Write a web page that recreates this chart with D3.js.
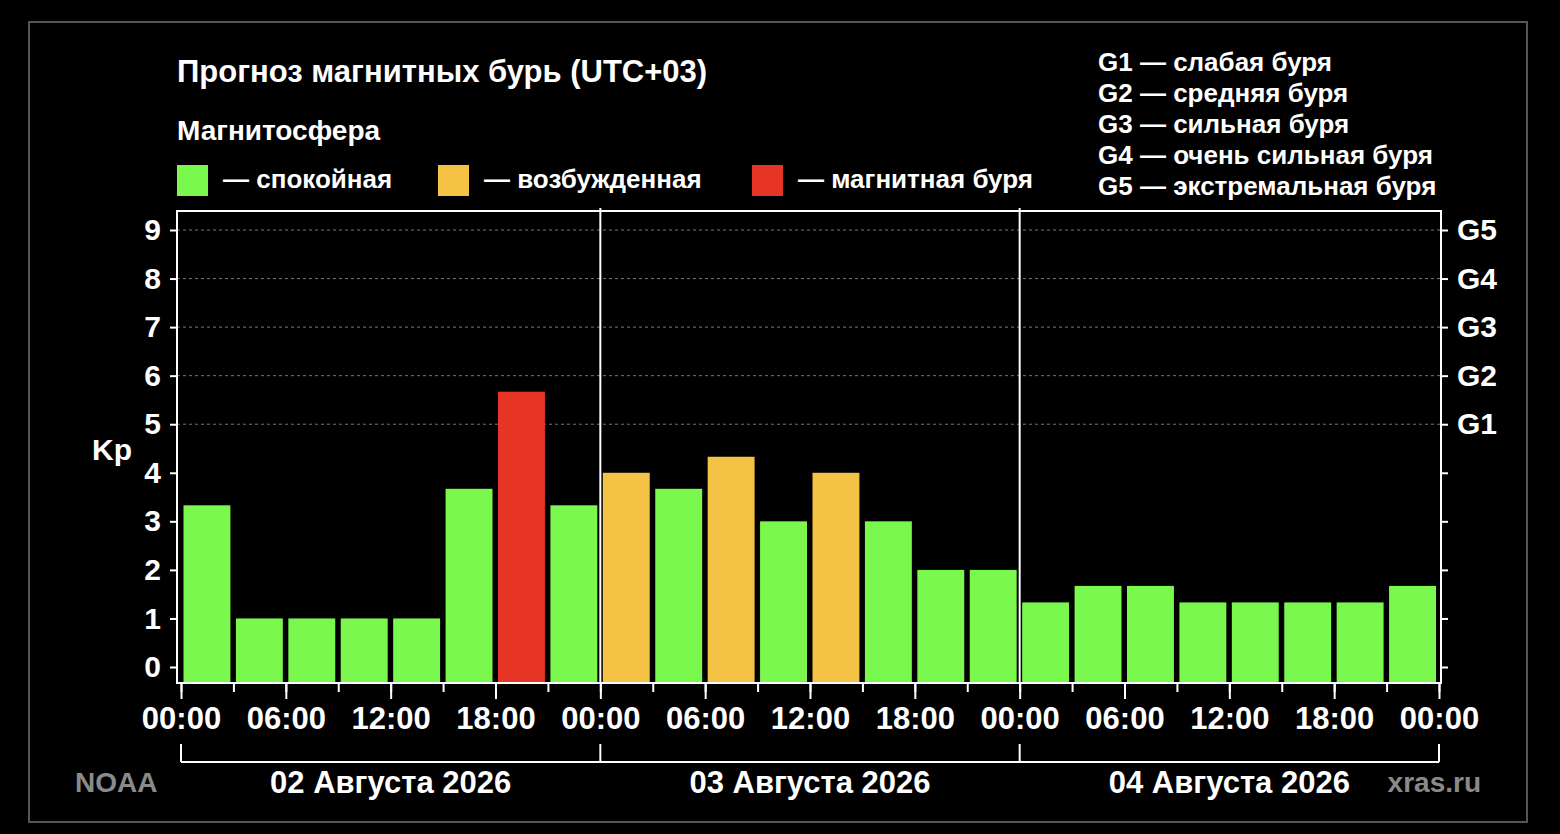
<!DOCTYPE html>
<html>
<head>
<meta charset="utf-8">
<script src="https://cdn.jsdelivr.net/npm/d3@7"></script>
<style>
  body { margin: 0; background: #000; }
  svg text { font-family: "Liberation Sans", Arial, sans-serif; font-weight: bold; }
</style>
</head>
<body>
<div id="chart"></div>
<script>
// Kp forecast, one value per 3 hours
var days = ["02 Августа 2026", "03 Августа 2026", "04 Августа 2026"];
var kpValues = [3.33, 1, 1, 1, 1, 3.67, 5.67, 3.33,
                4, 3.67, 4.33, 3, 4, 3, 2, 2,
                1.33, 1.67, 1.67, 1.33, 1.33, 1.33, 1.33, 1.67];
var kpTicks = [0, 1, 2, 3, 4, 5, 6, 7, 8, 9];
var stormLevels = [5, 6, 7, 8, 9];
var stormLabels = ["G1", "G2", "G3", "G4", "G5"];
var stormNames = ["слабая буря", "средняя буря", "сильная буря", "очень сильная буря", "экстремальная буря"];
var stateNames = ["спокойная", "возбужденная", "магнитная буря"];
var stateColors = ["#7bf84e", "#f4c244", "#e63425"];

function makeChart() {
var svgWidth = 1560;
var svgHeight = 834;

var plot = { left: 177, right: 1441, top: 211, bottom: 683 };

var svg = d3.select("#chart")
            .append("svg")
            .attr("width", svgWidth)
            .attr("height", svgHeight);

svg.append("rect")
   .attr("x", 29).attr("y", 22)
   .attr("width", 1498).attr("height", 800)
   .attr("fill", "none")
   .attr("stroke", "#555")
   .attr("stroke-width", 2);

var start = new Date(Date.UTC(2026, 7, 2));
var end = d3.utcDay.offset(start, days.length);
var bars = kpValues.map(function(v, i) {
    return { t: d3.utcHour.offset(start, i * 3), kp: v };
});

var xScale = d3.scaleUtc()
               .domain([start, end])
               .range([181, 1439]);
var yScale = d3.scaleLinear()
               .domain([0, 9])
               .range([667, 230]);

function kpColor(v) {
    if (v >= 5) return stateColors[2];
    if (v >= 4) return stateColors[1];
    return stateColors[0];
}

// grid for storm levels
svg.append("g")
   .selectAll("line")
   .data(stormLevels)
   .enter()
   .append("line")
   .attr("x1", plot.left).attr("x2", plot.right)
   .attr("y1", d => yScale(d)).attr("y2", d => yScale(d))
   .attr("stroke", "#777")
   .attr("stroke-width", 1)
   .attr("stroke-dasharray", "3,3");

svg.append("g")
   .selectAll("rect")
   .data(bars)
   .enter()
   .append("rect")
   .attr("x", d => xScale(d.t) + 2.5)
   .attr("width", d => xScale(d3.utcHour.offset(d.t, 3)) - xScale(d.t) - 5.5)
   .attr("y", d => yScale(d.kp))
   .attr("height", d => plot.bottom - yScale(d.kp))
   .attr("fill", d => kpColor(d.kp));

// day separators
svg.append("g")
   .selectAll("line")
   .data(d3.utcDay.range(d3.utcDay.offset(start, 1), end))
   .enter()
   .append("line")
   .attr("x1", d => xScale(d)).attr("x2", d => xScale(d))
   .attr("y1", plot.top - 3).attr("y2", plot.bottom)
   .attr("stroke", "#fff")
   .attr("stroke-width", 2);

svg.append("rect")
   .attr("x", plot.left).attr("y", plot.top)
   .attr("width", plot.right - plot.left)
   .attr("height", plot.bottom - plot.top)
   .attr("fill", "none")
   .attr("stroke", "#fff")
   .attr("stroke-width", 2);

// x axes: minor 3h ticks, major 6h ticks with labels
var xMinor = d3.axisBottom(xScale)
               .ticks(d3.utcHour.every(3))
               .tickSize(9)
               .tickFormat("");
var xMajor = d3.axisBottom(xScale)
               .ticks(d3.utcHour.every(6))
               .tickSize(16)
               .tickPadding(8)
               .tickFormat(d3.utcFormat("%H:%M"));

svg.append("g").attr("class", "axis")
   .attr("transform", `translate(0, ${plot.bottom})`)
   .call(xMinor);
svg.append("g").attr("class", "axis")
   .attr("transform", `translate(0, ${plot.bottom})`)
   .call(xMajor)
   .selectAll("text")
   .style("font-size", "31px");

var yLeft = d3.axisLeft(yScale)
              .tickValues(kpTicks)
              .tickSize(7)
              .tickPadding(9)
              .tickFormat(d3.format("d"));
svg.append("g").attr("class", "axis")
   .attr("transform", `translate(${plot.left}, 0)`)
   .call(yLeft)
   .selectAll("text")
   .style("font-size", "30px");

var yRight = d3.axisRight(yScale)
               .tickValues(kpTicks)
               .tickSize(7)
               .tickPadding(9)
               .tickFormat(d => stormLabels[stormLevels.indexOf(d)] || "");
svg.append("g").attr("class", "axis")
   .attr("transform", `translate(${plot.right}, 0)`)
   .call(yRight)
   .selectAll("text")
   .style("font-size", "30px");

svg.selectAll(".axis .domain").remove();
svg.selectAll(".axis line").attr("stroke", "#fff").attr("stroke-width", 2);
svg.selectAll(".axis text").attr("fill", "#fff");

svg.append("text")
   .attr("x", 92).attr("y", 460)
   .attr("fill", "#fff")
   .style("font-size", "30px")
   .text("Kp");

// day brackets
var bracketY = 762;
svg.append("line")
   .attr("x1", xScale(start)).attr("x2", xScale(end))
   .attr("y1", bracketY).attr("y2", bracketY)
   .attr("stroke", "#fff").attr("stroke-width", 2);
svg.append("g")
   .selectAll("line")
   .data(d3.utcDay.range(start, d3.utcDay.offset(end, 1)))
   .enter()
   .append("line")
   .attr("x1", d => xScale(d)).attr("x2", d => xScale(d))
   .attr("y1", bracketY - 18).attr("y2", bracketY)
   .attr("stroke", "#fff").attr("stroke-width", 2);

svg.append("g")
   .selectAll("text")
   .data(days)
   .enter()
   .append("text")
   .attr("x", (d, i) => (xScale(d3.utcDay.offset(start, i)) + xScale(d3.utcDay.offset(start, i + 1))) / 2)
   .attr("y", 793)
   .attr("text-anchor", "middle")
   .attr("fill", "#fff")
   .style("font-size", "31px")
   .text(d => d);

svg.append("text")
   .attr("x", 75).attr("y", 792)
   .attr("fill", "#8a8a8a")
   .style("font-size", "28px")
   .text("NOAA");
svg.append("text")
   .attr("x", 1481).attr("y", 792)
   .attr("text-anchor", "end")
   .attr("fill", "#8a8a8a")
   .style("font-size", "28px")
   .text("xras.ru");

// titles
svg.append("text")
   .attr("x", 177).attr("y", 82)
   .attr("fill", "#fff")
   .style("font-size", "31px")
   .text("Прогноз магнитных бурь (UTC+03)");
svg.append("text")
   .attr("x", 177).attr("y", 140)
   .attr("fill", "#fff")
   .style("font-size", "28px")
   .text("Магнитосфера");

// state legend
var legendX = [177, 438, 752];
var legend = svg.append("g")
                .selectAll("g")
                .data(stateNames)
                .enter()
                .append("g")
                .attr("transform", (d, i) => `translate(${legendX[i]}, 165)`);
legend.append("rect")
      .attr("width", 31).attr("height", 31)
      .attr("fill", (d, i) => stateColors[i]);
legend.append("text")
      .attr("x", 46).attr("y", 23)
      .attr("fill", "#fff")
      .style("font-size", "26px")
      .text(d => "— " + d);

// storm scale legend
svg.append("g")
   .selectAll("text")
   .data(stormLabels)
   .enter()
   .append("text")
   .attr("x", 1098)
   .attr("y", (d, i) => 71 + i * 31)
   .attr("fill", "#fff")
   .style("font-size", "26px")
   .text((d, i) => d + " — " + stormNames[i]);
}
makeChart();
</script>
</body>
</html>
